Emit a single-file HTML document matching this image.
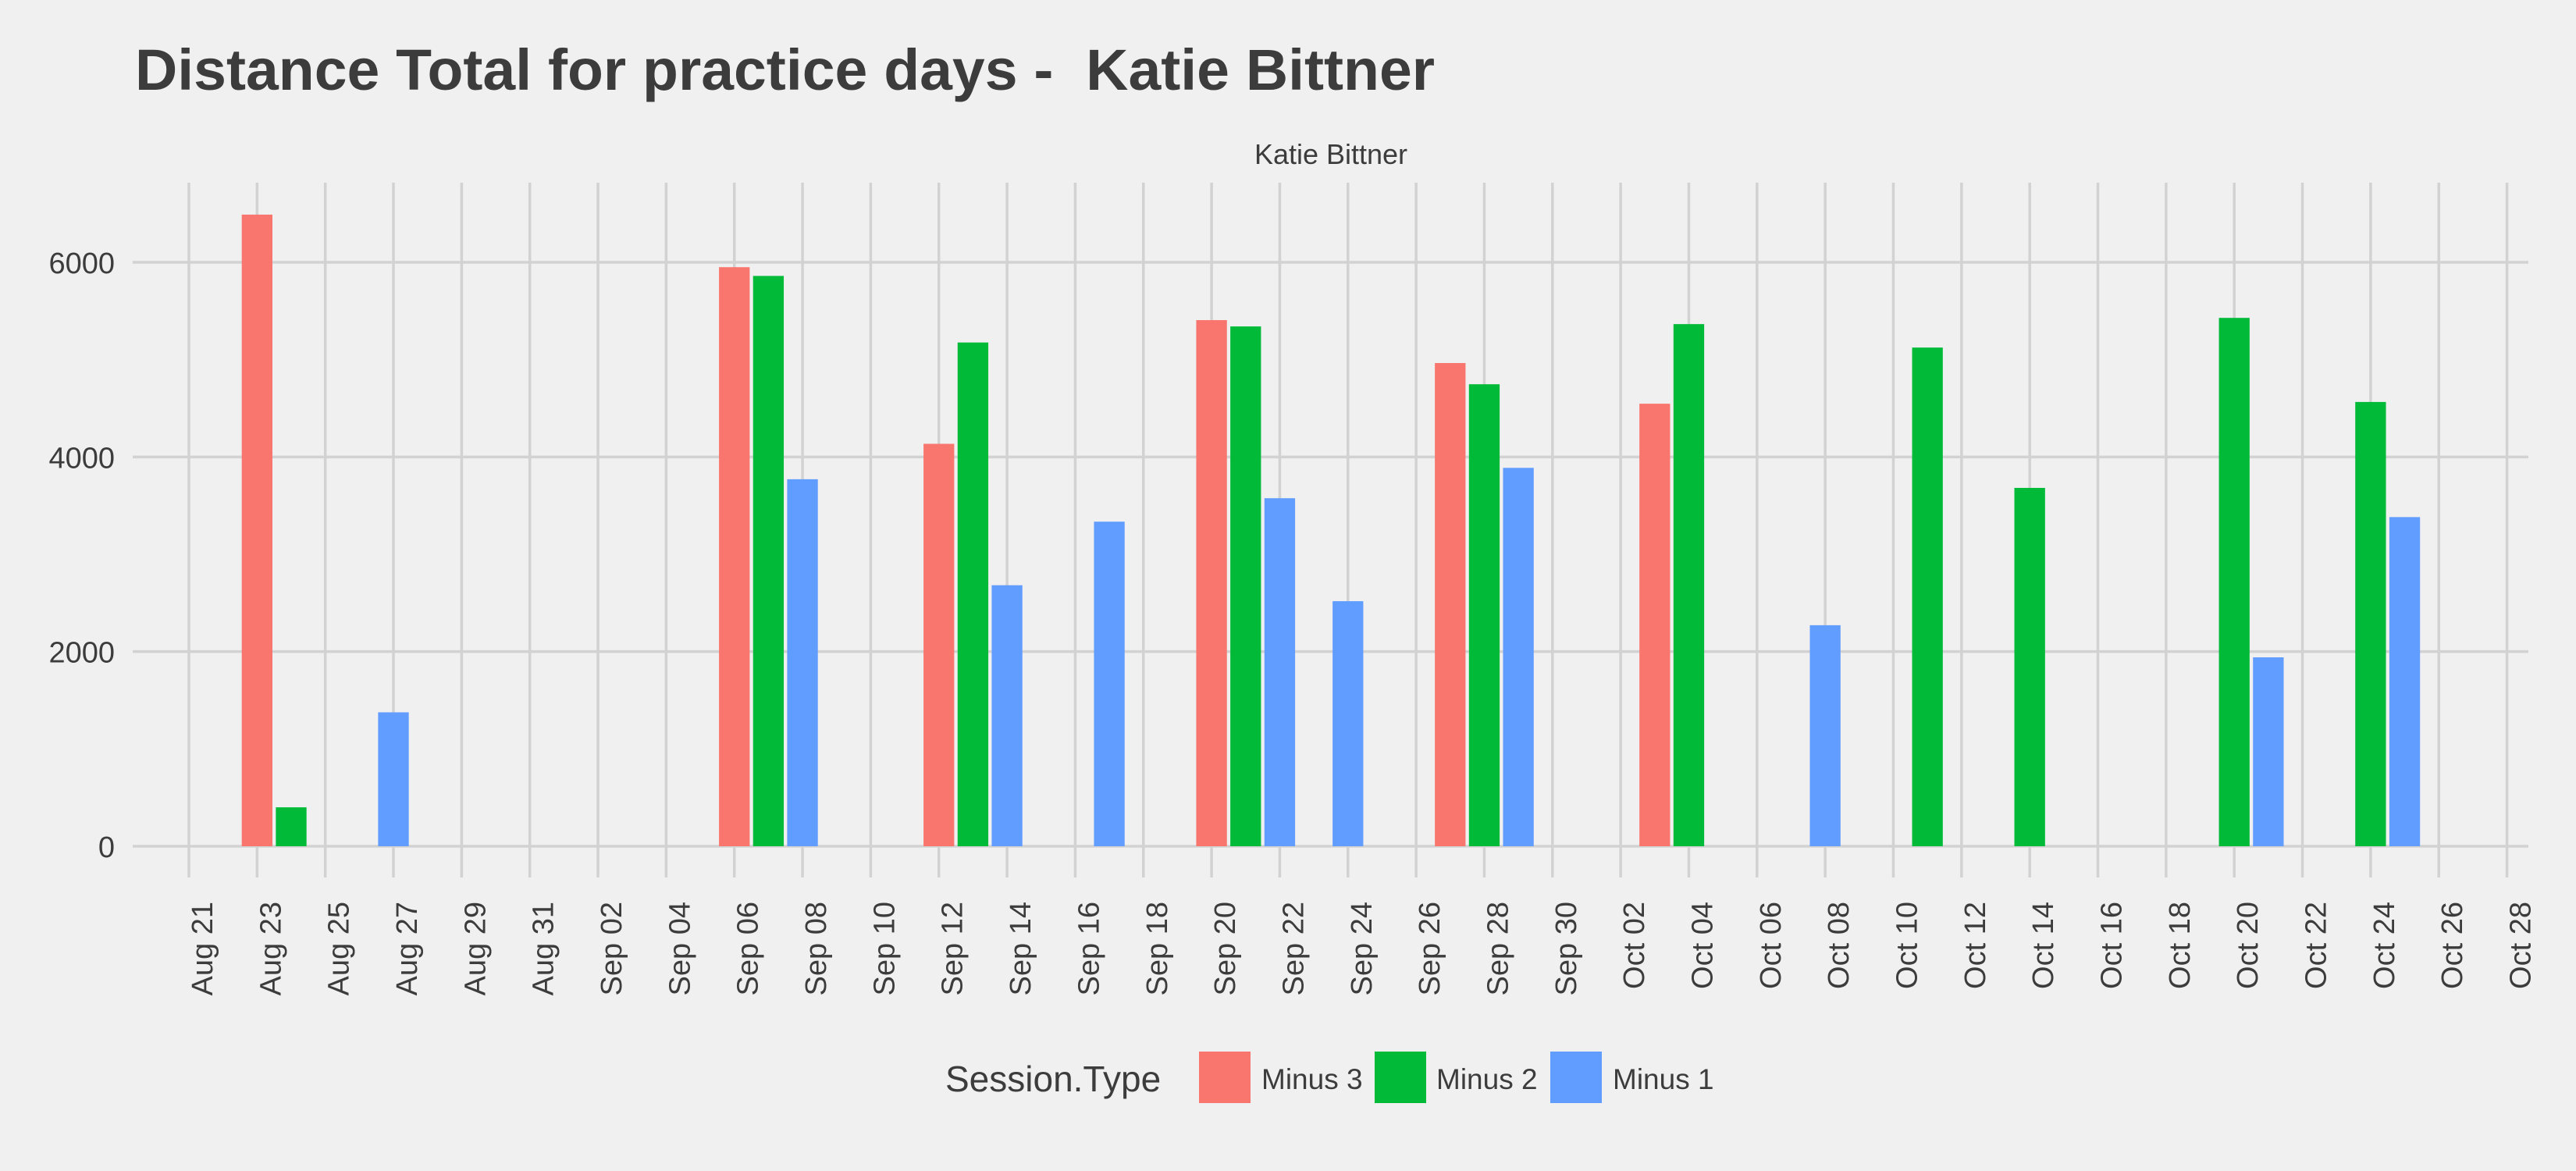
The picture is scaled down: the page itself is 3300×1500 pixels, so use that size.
<!DOCTYPE html>
<html><head><meta charset="utf-8"><style>
html,body{margin:0;padding:0;background:#f0f0f0;}
svg{display:block;font-family:"Liberation Sans",Arial,sans-serif;}
</style></head><body>
<svg id="chart" width="3300" height="1500" viewBox="0 0 3300 1500" xmlns="http://www.w3.org/2000/svg">
<rect x="0" y="0" width="3300" height="1500" fill="#f0f0f0"/>
<text x="173" y="115" font-size="74" font-weight="bold" fill="#3c3c3c" textLength="1665" lengthAdjust="spacingAndGlyphs" style="white-space:pre">Distance Total for practice days -&#160; Katie Bittner</text>
<text x="1705" y="210" font-size="36" fill="#3c3c3c" text-anchor="middle">Katie Bittner</text>
<g id="grid"></g>
<g id="bars"></g>
<g id="xlabels"></g>
<g id="ylabels"></g>
<g>
<text x="1211" y="1398" font-size="46" fill="#3c3c3c">Session.Type</text>
<rect x="1536" y="1347" width="66" height="66" fill="#F8766D"/>
<text x="1616" y="1395" font-size="37" fill="#3c3c3c">Minus 3</text>
<rect x="1761" y="1347" width="66" height="66" fill="#00BA38"/>
<text x="1840" y="1395" font-size="37" fill="#3c3c3c">Minus 2</text>
<rect x="1986" y="1347" width="66" height="66" fill="#619CFF"/>
<text x="2066" y="1395" font-size="37" fill="#3c3c3c">Minus 1</text>
</g>
</svg>
<script>
// day offsets from Aug 21
const minus3Days = [2, 16, 22, 30, 37, 43];
const minus3Values = [6490, 5950, 4135, 5406, 4965, 4547];
const minus2Days = [3, 17, 23, 31, 38, 44, 51, 54, 60, 64];
const minus2Values = [400, 5860, 5176, 5341, 4747, 5365, 5124, 3682, 5429, 4565];
const minus1Days = [6, 18, 24, 27, 32, 34, 39, 48, 61, 65];
const minus1Values = [1376, 3771, 2682, 3335, 3576, 2518, 3888, 2271, 1941, 3382];
const xTickDays = [0,2,4,6,8,10,12,14,16,18,20,22,24,26,28,30,32,34,36,38,40,42,44,46,48,50,52,54,56,58,60,62,64,66,68];
const xTickLabels = ["Aug 21","Aug 23","Aug 25","Aug 27","Aug 29","Aug 31","Sep 02","Sep 04","Sep 06","Sep 08","Sep 10","Sep 12","Sep 14","Sep 16","Sep 18","Sep 20","Sep 22","Sep 24","Sep 26","Sep 28","Sep 30","Oct 02","Oct 04","Oct 06","Oct 08","Oct 10","Oct 12","Oct 14","Oct 16","Oct 18","Oct 20","Oct 22","Oct 24","Oct 26","Oct 28"];
const yTicks = [0, 2000, 4000, 6000];
const yTickLabels = ["0", "2000", "4000", "6000"];

const NS = "http://www.w3.org/2000/svg";
const PX_PER_DAY = 43.67, X0 = 242;
const Y0 = 1084, PX_PER_UNIT = (1084 - 336) / 6000;
const PLOT_L = 170, PLOT_R = 3239, PLOT_T = 234, PLOT_B = 1124;
function xScale(d) { return X0 + d * PX_PER_DAY; }
function yScale(v) { return Y0 - v * PX_PER_UNIT; }
function mk(tag, attrs, parent) {
  const el = document.createElementNS(NS, tag);
  for (const k in attrs) el.setAttribute(k, attrs[k]);
  parent.appendChild(el);
  return el;
}
const grid = document.getElementById('grid');
yTicks.forEach(function (t) {
  const l = mk('line', {x1: PLOT_L, x2: PLOT_R, y1: yScale(t), y2: yScale(t), stroke: '#d2d2d2', 'stroke-width': 3.5}, grid);
  
  
});
xTickDays.forEach(function (d) {
  const l = mk('line', {x1: xScale(d), x2: xScale(d), y1: PLOT_T, y2: PLOT_B, stroke: '#d2d2d2', 'stroke-width': 3.5}, grid);
  
  
});
const bars = document.getElementById('bars');
const bw = PX_PER_DAY * 0.9;
function drawSeries(days, vals, color, name) {
  days.forEach(function (d, i) {
    const top = yScale(vals[i]);
    const r = mk('rect', {x: xScale(d) - bw / 2, y: top, width: bw, height: Y0 - top, fill: color}, bars);
    
    
  });
}
drawSeries(minus3Days, minus3Values, '#F8766D', 'bar-minus-3');
drawSeries(minus2Days, minus2Values, '#00BA38', 'bar-minus-2');
drawSeries(minus1Days, minus1Values, '#619CFF', 'bar-minus-1');
const xl = document.getElementById('xlabels');
xTickDays.forEach(function (d, i) {
  const x = xScale(d) + 30, y = 1155;
  const t = mk('text', {x: x, y: y, 'font-size': 38, fill: '#3c3c3c', 'text-anchor': 'end', transform: 'rotate(-90 ' + x + ' ' + y + ')'}, xl);
  t.textContent = xTickLabels[i];
  
  
});
const yl = document.getElementById('ylabels');
yTicks.forEach(function (v, i) {
  const t = mk('text', {x: 147, y: yScale(v) + 14, 'font-size': 38, fill: '#3c3c3c', 'text-anchor': 'end'}, yl);
  t.textContent = yTickLabels[i];
  
  
});
</script>
</body></html>
